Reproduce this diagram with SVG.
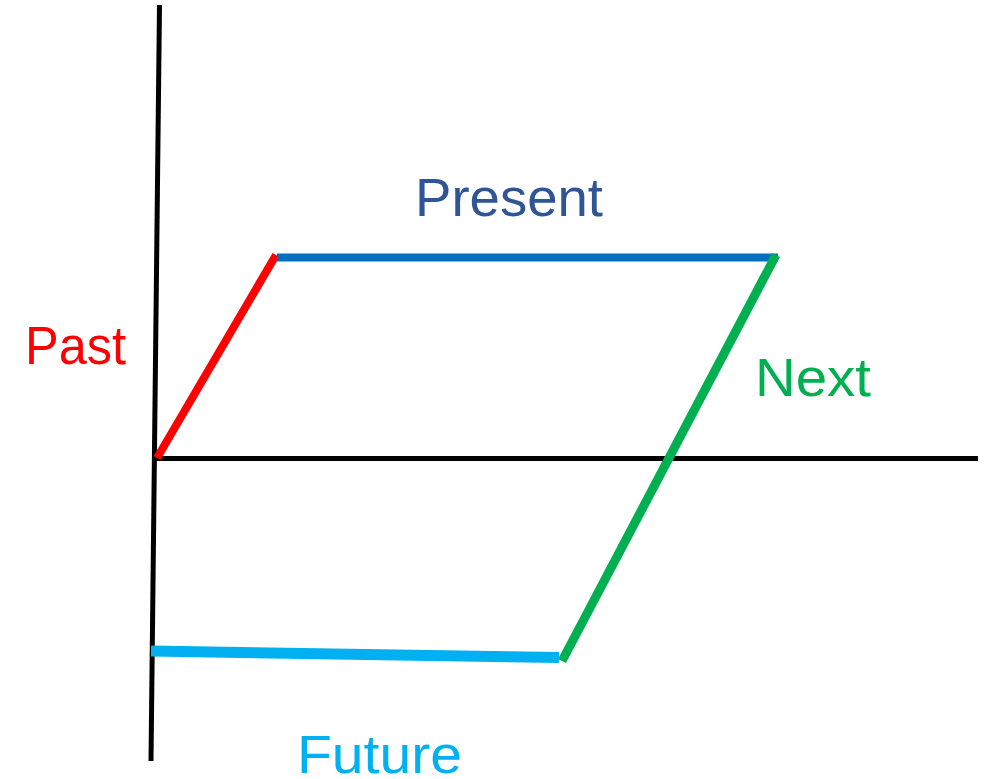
<svg xmlns="http://www.w3.org/2000/svg" width="987" height="779" viewBox="0 0 987 779">
<style>
.lbl{font-family:"Liberation Sans",Arial,sans-serif;font-size:54px}
.ax{stroke:#000;stroke-width:5;fill:none}
</style>
<rect width="987" height="779" fill="#fff"/>
<g id="axes">
<line class="ax" x1="159.5" y1="5" x2="151" y2="761"/>
<line class="ax" x1="155" y1="458.5" x2="978" y2="458.5"/>
</g>
<g id="connectors" fill="none">
<line id="past-line" x1="157" y1="458" x2="276" y2="255" stroke="#FF0000" stroke-width="8"/>
<line id="present-line" x1="277" y1="257.5" x2="778" y2="257.5" stroke="#0070C0" stroke-width="8"/>
<line id="next-line" x1="776" y1="255" x2="562" y2="661" stroke="#00B050" stroke-width="9"/>
<line id="future-line" x1="151" y1="651" x2="559" y2="657.5" stroke="#00B0F0" stroke-width="11"/>
</g>
<g id="past"><text class="lbl" x="25" y="364" fill="#FF0000" textLength="101" lengthAdjust="spacingAndGlyphs">Past</text></g>
<g id="present"><text class="lbl" x="415" y="216" fill="#2F5597" textLength="188" lengthAdjust="spacingAndGlyphs">Present</text></g>
<g id="next"><text class="lbl" x="755" y="396" fill="#00B050" textLength="116" lengthAdjust="spacingAndGlyphs">Next</text></g>
<g id="future"><text class="lbl" x="297" y="773" fill="#00B0F0" textLength="165" lengthAdjust="spacingAndGlyphs">Future</text></g>
</svg>
